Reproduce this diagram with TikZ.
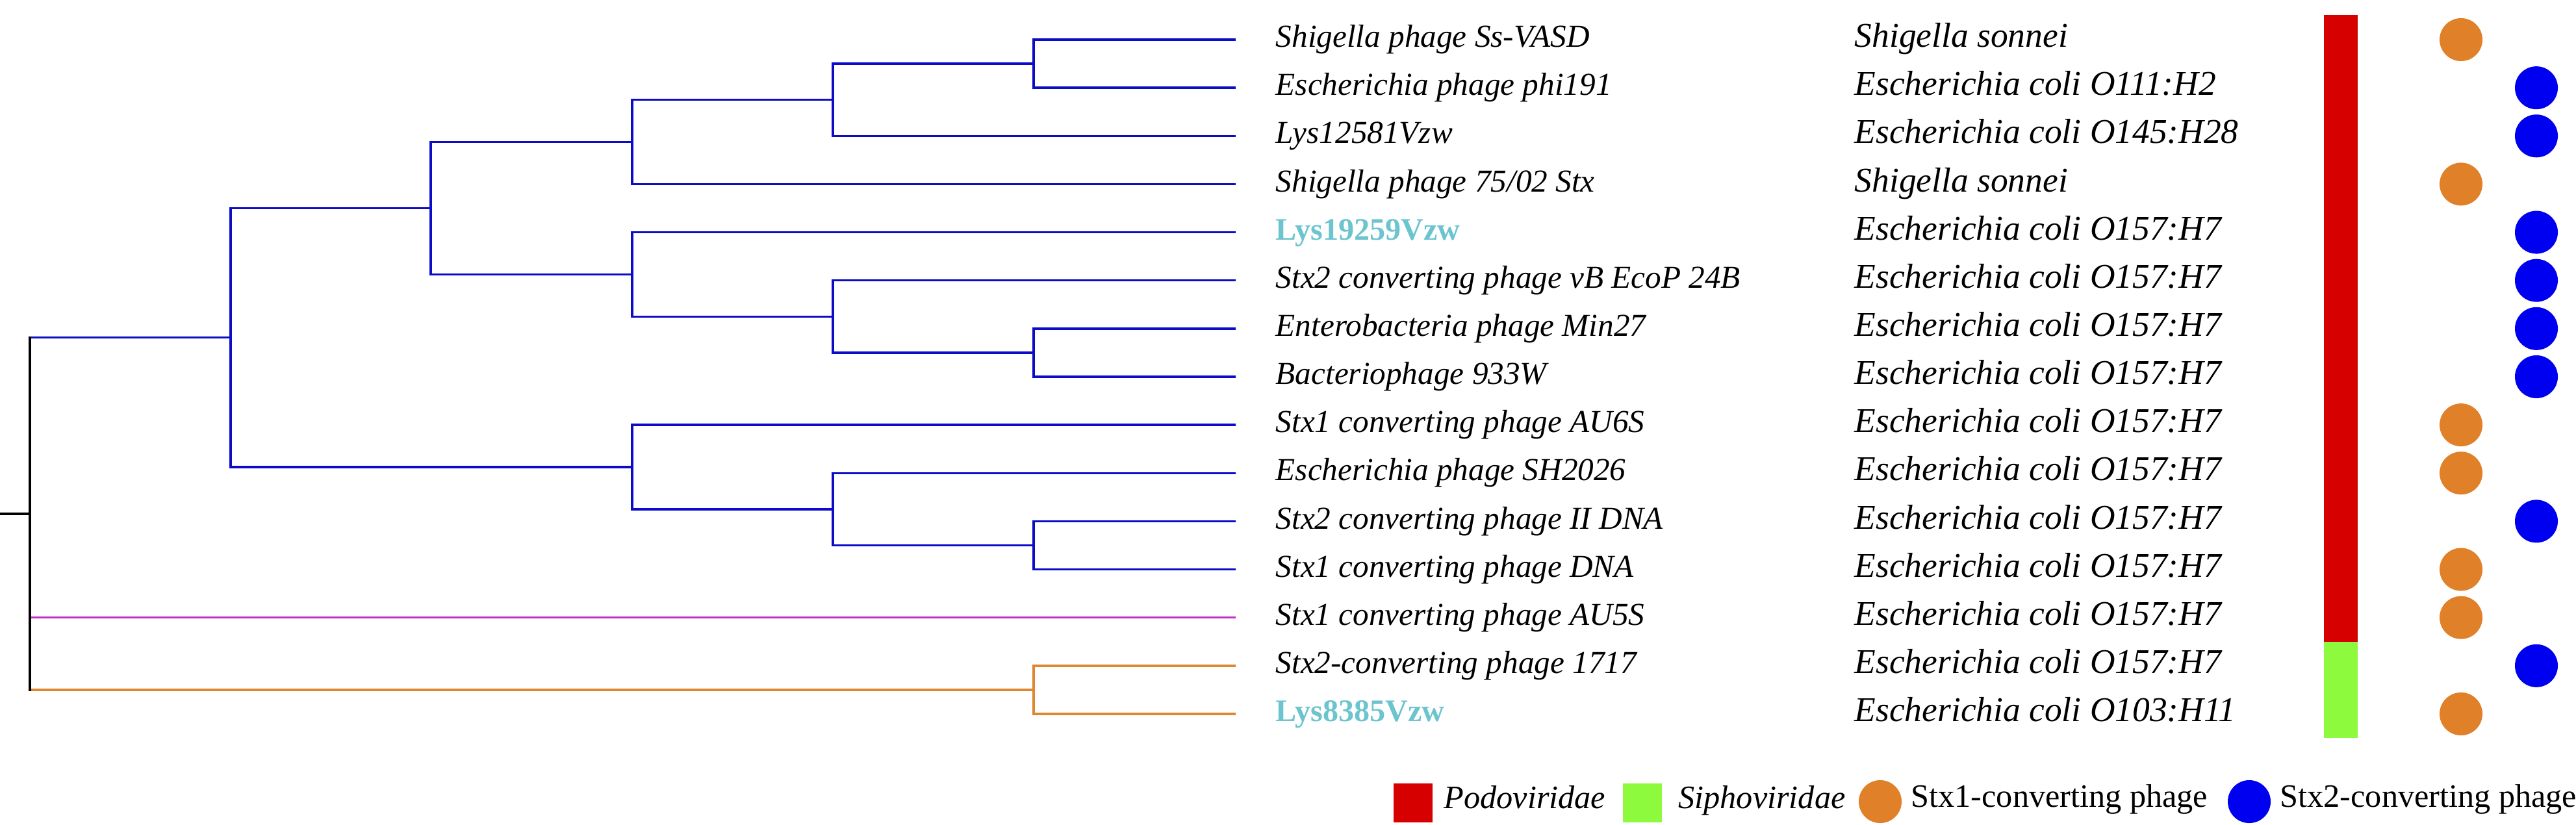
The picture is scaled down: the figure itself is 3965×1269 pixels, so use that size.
\documentclass[tikz,border=0pt]{standalone}
\usepackage{fontspec}
\setmainfont{Liberation Serif}
\usetikzlibrary{positioning}
\definecolor{cladeblue}{RGB}{12,12,200}
\definecolor{cladeorange}{RGB}{222,134,48}
\definecolor{cladepink}{RGB}{195,45,200}
\definecolor{famred}{RGB}{214,0,0}
\definecolor{famgreen}{RGB}{142,250,62}
\definecolor{stxorange}{RGB}{224,128,40}
\definecolor{stxblue}{RGB}{0,0,240}
\definecolor{labcyan}{RGB}{108,196,206}
\begin{document}
\begin{tikzpicture}[x=0.01cm,y=-0.01cm,line width=1pt,line cap=rect,
        leaf/.style={anchor=mid west,inner sep=0pt,yshift=-1pt,font=\fontsize{14}{16}\selectfont\itshape},
        newleaf/.style={leaf,font=\fontsize{13.7}{16}\selectfont\bfseries,text=labcyan},
        host/.style={anchor=mid west,inner sep=0pt,yshift=-1pt,font=\fontsize{15.2}{17}\selectfont\itshape},
        stxone/.style={circle,fill=stxorange,inner sep=0pt,minimum size=0.66cm},
        stxtwo/.style={circle,fill=stxblue,inner sep=0pt,minimum size=0.66cm},
        swatch/.style={inner sep=0pt,minimum size=0.6cm},
        keytext/.style={anchor=mid west,inner sep=0pt,font=\fontsize{14.3}{16}\selectfont}]
    \useasboundingbox (0,0) rectangle (3965,1269);
    \foreach \i in {1,...,15}
        \coordinate (t\i) at (1900,{61+(\i-1)*74.14});
    \coordinate (n12) at (1591,98.1);
    \coordinate (n123) at (1282,153.7);
    \coordinate (n1234) at (973,218.5);
    \coordinate (n78) at (1591,542.9);
    \coordinate (n678) at (1282,487.3);
    \coordinate (n5678) at (973,422.4);
    \coordinate (n18) at (663,320.5);
    \coordinate (n1112) at (1591,839.5);
    \coordinate (n1012) at (1282,783.9);
    \coordinate (n912) at (973,719);
    \coordinate (n112) at (355,519.7);
    \coordinate (n1415) at (1591,1061.9);
    \coordinate (root) at (46,790.8);
    \coordinate (base) at (0,790.8);
    \draw[cladeblue] (n12) |- (t1) (n12) |- (t2);
    \draw[cladeblue] (n123) |- (n12) (n123) |- (t3);
    \draw[cladeblue] (n1234) |- (n123) (n1234) |- (t4);
    \draw[cladeblue] (n78) |- (t7) (n78) |- (t8);
    \draw[cladeblue] (n678) |- (t6) (n678) |- (n78);
    \draw[cladeblue] (n5678) |- (t5) (n5678) |- (n678);
    \draw[cladeblue] (n18) |- (n1234) (n18) |- (n5678);
    \draw[cladeblue] (n1112) |- (t11) (n1112) |- (t12);
    \draw[cladeblue] (n1012) |- (t10) (n1012) |- (n1112);
    \draw[cladeblue] (n912) |- (t9) (n912) |- (n1012);
    \draw[cladeblue] (n112) |- (n18) (n112) |- (n912);
    \draw[cladeblue] (root |- n112) -- (n112);
    \draw[cladepink] (root |- t13) -- (t13);
    \draw[cladeorange] (n1415) |- (t14) (n1415) |- (t15);
    \draw[cladeorange] (root |- n1415) -- (n1415);
    \draw (root |- n112) -- (root |- n1415);
    \draw (base) -- (root);
    \node[right=0.62cm of t1,leaf] (l1) {Shigella phage Ss-VASD};
    \node[right=0.62cm of t2,leaf] (l2) {Escherichia phage phi191};
    \node[right=0.62cm of t3,leaf] (l3) {Lys12581Vzw};
    \node[right=0.62cm of t4,leaf] (l4) {Shigella phage 75/02 Stx};
    \node[right=0.62cm of t5,newleaf] (l5) {Lys19259Vzw};
    \node[right=0.62cm of t6,leaf] (l6) {Stx2 converting phage vB EcoP 24B};
    \node[right=0.62cm of t7,leaf] (l7) {Enterobacteria phage Min27};
    \node[right=0.62cm of t8,leaf] (l8) {Bacteriophage 933W};
    \node[right=0.62cm of t9,leaf] (l9) {Stx1 converting phage AU6S};
    \node[right=0.62cm of t10,leaf] (l10) {Escherichia phage SH2026};
    \node[right=0.62cm of t11,leaf] (l11) {Stx2 converting phage II DNA};
    \node[right=0.62cm of t12,leaf] (l12) {Stx1 converting phage DNA};
    \node[right=0.62cm of t13,leaf] (l13) {Stx1 converting phage AU5S};
    \node[right=0.62cm of t14,leaf] (l14) {Stx2-converting phage 1717};
    \node[right=0.62cm of t15,newleaf] (l15) {Lys8385Vzw};
    \foreach \i/\h in {1/Shigella sonnei,2/Escherichia coli O111:H2,3/Escherichia coli O145:H28,
            4/Shigella sonnei,5/Escherichia coli O157:H7,6/Escherichia coli O157:H7,
            7/Escherichia coli O157:H7,8/Escherichia coli O157:H7,9/Escherichia coli O157:H7,
            10/Escherichia coli O157:H7,11/Escherichia coli O157:H7,12/Escherichia coli O157:H7,
            13/Escherichia coli O157:H7,14/Escherichia coli O157:H7,15/Escherichia coli O103:H11}
        \node[host] (h\i) at (2853,{61+(\i-1)*74.14}) {\h};
    \fill[famred] (3577,23) rectangle (3629,987.8);
    \fill[famgreen] (3577,987.8) rectangle (3629,1136);
    \foreach \i in {1,4,9,10,12,13,15}
        \node[stxone] (a\i) at (3788,{61+(\i-1)*74.14}) {};
    \foreach \i in {2,3,5,6,7,8,11,14}
        \node[stxtwo] (b\i) at (3904,{61+(\i-1)*74.14}) {};
    \node[swatch,fill=famred] (kpodo) at (2175,1236) {};
    \node[right=0.14cm of kpodo,keytext,font=\fontsize{14.3}{16}\selectfont\itshape] (tpodo) {Podoviridae};
    \node[swatch,fill=famgreen] (ksipho) at (2528,1236) {};
    \node[right=0.22cm of ksipho,keytext,font=\fontsize{14.3}{16}\selectfont\itshape] (tsipho) {Siphoviridae};
    \node[stxone] (kone) at (2894,1234) {};
    \node[right=0.11cm of kone,keytext] (tone) {Stx1-converting phage};
    \node[stxtwo] (ktwo) at (3462,1234) {};
    \node[right=0.11cm of ktwo,keytext] (ttwo) {Stx2-converting phage};
\end{tikzpicture}
\end{document}
